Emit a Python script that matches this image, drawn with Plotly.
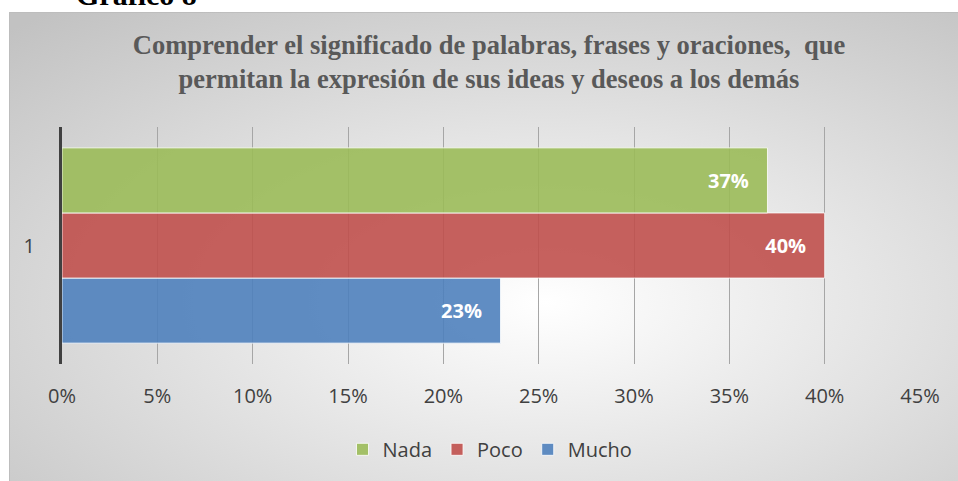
import base64
import plotly.graph_objects as go

# ---- data ----
categories = ["1"]
series_names = ["Mucho", "Poco", "Nada"]          # bottom -> top
series_values = [[0.23], [0.40], [0.37]]
series_colors = ["rgba(79,129,189,0.9)", "rgba(192,80,77,0.9)", "rgba(155,187,89,0.9)"]
x_tickvals = [0, 0.05, 0.10, 0.15, 0.20, 0.25, 0.30, 0.35, 0.40, 0.45]
x_ticktext = ["0%", "5%", "10%", "15%", "20%", "25%", "30%", "35%", "40%", "45%"]
title_text = ("Comprender el significado de palabras, frases y oraciones,  que<br>"
              "permitan la expresión de sus ideas y deseos a los demás")
caption_text = "Gráfico 8"

W, H = 958, 481
L, R, T, B = 62, 38, 127, 115
pw, ph = W - L - R, H - T - B

fig = go.Figure()
for name, vals, col in zip(series_names, series_values, series_colors):
    fig.add_trace(go.Bar(
        y=categories, x=vals, name=name, orientation="h",
        marker=dict(color=col, line=dict(color="rgba(255,255,255,0.8)", width=1)),
        text=[f"{round(v*100)}%\u00a0\u00a0\u00a0" for v in vals],
        textposition="inside", insidetextanchor="end",
        textfont=dict(family="Open Sans", size=20, color="white", weight="bold"),
        cliponaxis=False,
    ))

# gradient background for the chart area
svg = ('<svg xmlns="http://www.w3.org/2000/svg" width="960" height="480" '
       'viewBox="0 0 960 480" preserveAspectRatio="none">'
       '<defs><radialGradient id="g" cx="0.56" cy="0.61" r="0.8">'
       '<stop offset="0" stop-color="#ffffff"/><stop offset="1" stop-color="#c2c2c2"/>'
       '</radialGradient></defs>'
       '<rect x="0" y="0" width="960" height="480" fill="url(#g)"/>'
       '<path d="M0.5 480 L0.5 0.5 L960 0.5" fill="none" stroke="#bdbdbd" stroke-width="1"/>'
       '</svg>')
src = "data:image/svg+xml;base64," + base64.b64encode(svg.encode()).decode()

x0 = (9 - L) / pw
y_top = (T + ph - 11) / ph
fig.add_layout_image(dict(
    source=src, xref="paper", yref="paper", x=x0, y=y_top,
    sizex=(W + 10 - 9) / pw, sizey=(H + 10 - 11) / ph,
    xanchor="left", yanchor="top", sizing="stretch", layer="below",
))

fig.add_annotation(
    text=caption_text, xref="paper", yref="paper",
    x=(74 - L) / pw, y=(T + ph - 12) / ph, xanchor="left", yanchor="bottom",
    showarrow=False, font=dict(family="Liberation Serif", size=30, color="black", weight="bold"),
)

fig.update_layout(
    width=W, height=H,
    margin=dict(l=L, r=R, t=T, b=B),
    paper_bgcolor="white", plot_bgcolor="rgba(0,0,0,0)",
    barmode="group", bargap=0.176, bargroupgap=0,
    title=dict(text=title_text, x=489 / W, xanchor="center", xref="container",
               y=1 - 54 / H, yanchor="middle", yref="container",
               font=dict(family="Liberation Serif", size=26.5, color="#595959", weight="bold")),
    showlegend=True,
    legend=dict(orientation="h", traceorder="reversed", x=(490 - L) / pw, xanchor="center",
                y=-0.36, yanchor="middle", bgcolor="rgba(0,0,0,0)",
                font=dict(family="Open Sans", size=20, color="#404040")),
    font=dict(family="Open Sans", color="#404040"),
)
fig.update_xaxes(range=[0, 0.45], tickvals=x_tickvals, ticktext=x_ticktext,
                 showgrid=True, gridcolor="#a6a6a6", gridwidth=1, zeroline=False,
                 showline=False, ticks="", ticklabelstandoff=18,
                 tickfont=dict(family="Open Sans", size=20, color="#404040"))
fig.update_yaxes(type="category", showgrid=False, showline=True, linecolor="#404040",
                 linewidth=3, ticks="", ticklabelstandoff=20,
                 tickfont=dict(family="Open Sans", size=20, color="#404040"))

fig.write_html("out.html", config={"displayModeBar": False},
               post_script="document.body.style.margin='0';")
